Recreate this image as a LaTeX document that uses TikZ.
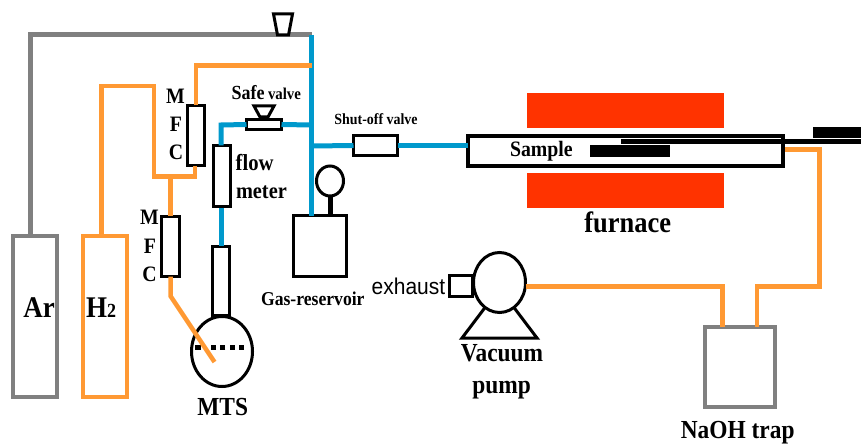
\documentclass[tikz,border=0pt]{standalone}
\usepackage{fontspec}
\setmainfont[FakeStretch=0.9]{Liberation Serif}
\newfontfamily\arialfont[FakeStretch=0.92]{Liberation Sans}
\usetikzlibrary{shapes.geometric}
\definecolor{pipeGray}{HTML}{808080}
\definecolor{pipeOrange}{HTML}{FF9933}
\definecolor{pipeBlue}{HTML}{0099CC}
\definecolor{heatRed}{HTML}{FF3300}
\tikzset{
  every node/.style={inner sep=0pt,outer sep=0pt},
  box/.style={draw=black,line width=3pt,fill=white,rectangle},
  ring/.style={draw=black,line width=3pt,fill=white,ellipse},
  cyl/.style={rectangle,line width=4pt,fill=white},
  heater/.style={rectangle,fill=heatRed,minimum width=197pt,minimum height=35pt},
  solid bar/.style={rectangle,fill=black},
  lab/.style={anchor=base,font=\bfseries\fontsize{#1}{#1}\selectfont},
  labw/.style={anchor=base west,font=\bfseries\fontsize{#1}{#1}\selectfont},
  gasline/.style={line width=5pt,pipeGray,line join=miter},
  h2line/.style={line width=4.5pt,pipeOrange,line join=miter},
  vacline/.style={line width=4.5pt,pipeOrange,line join=miter},
  blueline/.style={line width=5pt,pipeBlue,line join=miter},
  valvecap/.style={draw=black,line width=3pt,line join=miter,fill=white},
}
\begin{document}
\begin{tikzpicture}[x=1pt,y=-1pt]
\useasboundingbox (0,0) rectangle (861,446);

% furnace
\node[heater] (heatA) at (625.5,110.5) {};
\node[heater] (heatB) at (625.5,191) {};

% equipment
\node[cyl,draw=pipeGray,minimum width=44pt,minimum height=161pt] (ar) at (35,316.5) {};
\node[cyl,draw=pipeOrange,minimum width=44pt,minimum height=161pt] (hh) at (105,316.5) {};
\node[box,minimum width=17pt,minimum height=60pt] (mfcA) at (196,135.5) {};
\node[box,minimum width=18pt,minimum height=60pt] (mfcB) at (170.5,246.5) {};
\node[box,minimum width=17pt,minimum height=61pt] (flow) at (221.5,176) {};
\node[box,minimum width=17pt,minimum height=69pt] (neck) at (221,280.5) {};
\node[ring,minimum width=61pt,minimum height=70pt] (flask) at (222,351.5) {};
\node[box,minimum width=35pt,minimum height=10pt] (safe) at (264,124.5) {};
\node[box,minimum width=44pt,minimum height=20pt] (shut) at (375.5,145.5) {};
\node[box,minimum width=53pt,minimum height=61pt] (res) at (320,246) {};
\node[ring,minimum width=27pt,minimum height=30pt] (gauge) at (330,181) {};
\node[box,minimum width=315pt,minimum height=30pt,line width=3.5pt] (tube) at (625.5,151) {};
\node[solid bar,minimum width=80pt,minimum height=12pt] (sample) at (630,151) {};
\node[box,minimum width=23pt,minimum height=21pt] (exh) at (461,286) {};
\node[ring,minimum width=52pt,minimum height=60pt] (pump) at (499.5,282.5) {};
\node[cyl,draw=pipeGray,minimum width=70pt,minimum height=80pt] (trap) at (740,367) {};

% free ends
\coordinate (blueTop) at (311.5,35);
\coordinate (blueBase) at (311.5,216.5);
\coordinate (blueSafe) at (311.5,125);
\coordinate (blueShut) at (311.5,146);
\coordinate (bubbler) at (214.5,362);
\coordinate (elbow) at (170.5,296);
\coordinate (rodL) at (621,141.5);
\coordinate (rodR) at (861,141.5);
\coordinate (dashL) at (195,347);
\coordinate (dashR) at (244,347);

% gas lines
\draw[gasline] ([xshift=-4.5pt]ar.north) -- (30.5,35) -- (blueTop);
\draw[blueline] (blueTop) -- (blueBase);
\draw[blueline] (blueSafe) -- (safe.east);
\draw[blueline] (safe.west) -- (221,125) -- (flow.north -| 221,0);
\draw[blueline] (221,208) -- (neck.north);
\draw[blueline] (blueShut) -- (shut.west);
\draw[blueline] (shut.east) -- (tube.west |- shut.east);
\draw[line width=5pt] (gauge.south) -- (gauge.south |- res.north);

\draw[line width=5pt,dash pattern=on 5pt off 4.3pt on 5pt off 4.3pt on 5pt off 4.3pt on 5pt off 10.3pt on 5.7pt off 10pt] (dashR) -- (dashL);

\draw[h2line] (mfcA.north) -- (196,65.5) -- (311.5,65.5);
\draw[h2line] ([xshift=-3.5pt]hh.north) -- (101.5,86) -- (154,86) -- (154,176.5) -- (195,176.5) -- (195,166);
\draw[h2line] (170.5,176.5) -- (mfcB.north);
\draw[h2line] (mfcB.south) -- (elbow) -- (bubbler);

% vacuum lines
\draw[vacline] (785,149.5) -- (819.5,149.5) -- (819.5,286.5) -- (757,286.5) -- (757,327);
\draw[vacline] (pump.east |- 0,286.5) -- (722.7,286.5) -- (722.7,327);

% pump base
\draw[line width=3pt,line join=miter] (pump.240) -- (462,338) -- (537,338) -- (pump.300);

% valve caps
\draw[valvecap] (273.5,14) -- (292.5,14) -- (288.5,35) -- (277.5,35) -- cycle;
\draw[valvecap] (254,106) -- (274,106) -- (268,117) -- (260,117) -- cycle;

% sample holder rod
\draw[line width=5pt] (rodL) -- (rodR);
\node[solid bar,minimum width=48pt,minimum height=11pt] (plug) at (837,132.5) {};

% labels
\node[lab=22] (mA) at (175.5,104) {M};
\node[lab=22] (fA) at (176,132) {F};
\node[lab=22] (cA) at (176,160) {C};
\node[lab=22] (mB) at (149.5,225) {M};
\node[lab=22] (fB) at (150,253) {F};
\node[lab=22] (cB) at (149.5,281.5) {C};
\node[lab=30] (arT) at (39,317) {Ar};
\node[labw=30] (hT) at (86,317) {H\fontsize{20}{20}\selectfont 2};
\node[lab=26] (mts) at (222.7,415) {MTS};
\node[labw=20] (safeT) at (231.7,100) {Safe};
\node[labw=16.5] (valveT) at (268,100) {valve};
\node[labw=23] (flowT) at (235.7,170.5) {flow};
\node[labw=22.6] (meterT) at (236,199) {meter};
\node[lab=15.5] (shutT) at (376,125) {Shut-off valve};
\node[lab=19.6] (resT) at (312.8,305.7) {Gas-reservoir};
\node[labw=22] (sampleT) at (510,157) {Sample};
\node[lab=29.4] (furnT) at (627.7,232.7) {furnace};
\node[anchor=base west,font=\arialfont\fontsize{22.8}{22.8}\selectfont] (exT) at (371.7,294) {exhaust};
\node[lab=26] (vacT) at (502,361.7) {Vacuum};
\node[lab=26] (pumpT) at (501.7,393) {pump};
\node[lab=26] (naT) at (737.7,438) {NaOH trap};
\end{tikzpicture}
\end{document}
